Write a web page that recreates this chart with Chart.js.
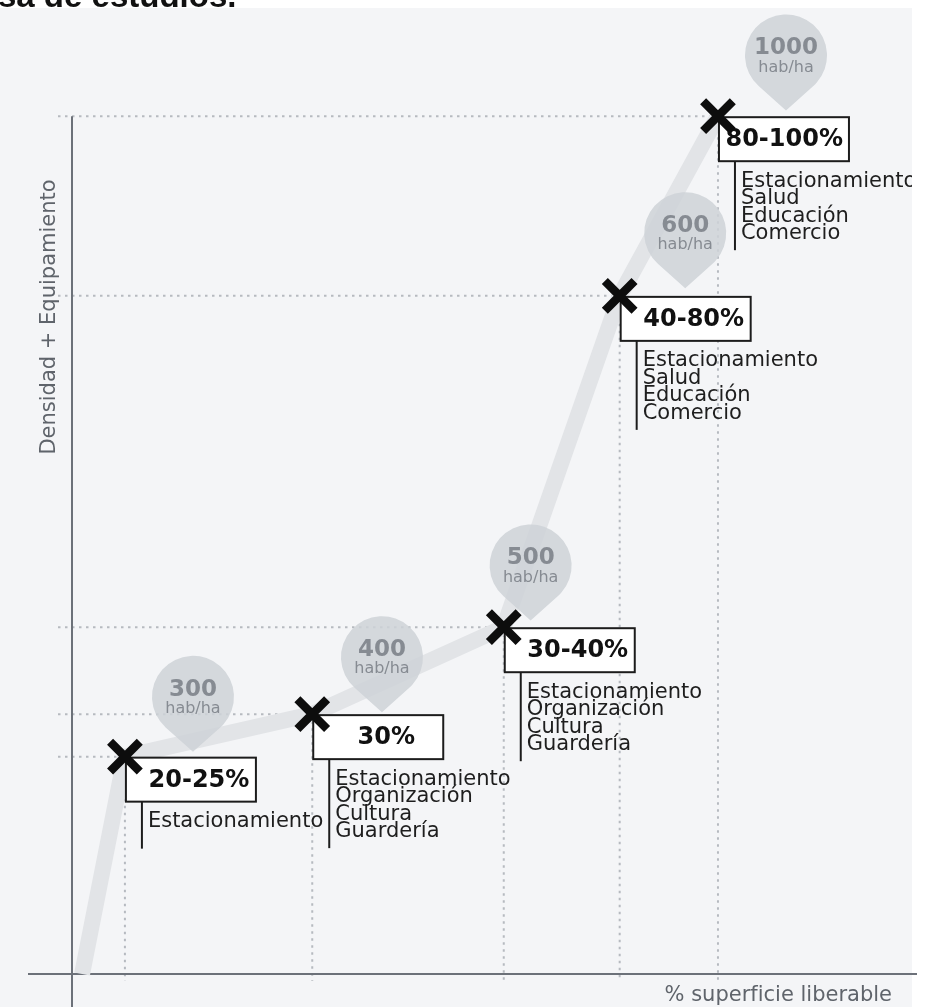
<!DOCTYPE html>
<html lang="es">
<head>
    <meta charset="UTF-8">
    <title>Densidad + Equipamiento</title>
    <style>
        body { margin: 0; background: #fff; }
        canvas { display: block; }
    </style>
</head>
<body>
    <canvas id="grafica" width="937" height="1007"></canvas>

<script src="https://cdn.jsdelivr.net/npm/chart.js@4.4.0/dist/chart.umd.min.js"></script>
<script>
    // datos
    var titulo = 'sa de estudios.';
    var ejeX = '% superficie liberable';
    var ejeY = 'Densidad + Equipamiento';

    var rangos = ['20-25%', '30%', '30-40%', '40-80%', '80-100%'];
    var superficie = [6.3, 28.6, 51.4, 65.2, 76.9];
    var densidadEquip = [22.5, 26.9, 35.9, 70.2, 88.8];
    var inicioX = 1.2;
    var inicioY = 0;

    var equipamiento = [
        ['Estacionamiento'],
        ['Estacionamiento', 'Organización', 'Cultura', 'Guardería'],
        ['Estacionamiento', 'Organización', 'Cultura', 'Guardería'],
        ['Estacionamiento', 'Salud', 'Educación', 'Comercio'],
        ['Estacionamiento', 'Salud', 'Educación', 'Comercio']
    ];

    var densidades = ['300', '400', '500', '600', '1000'];
    var pinX = [14.4, 36.9, 54.6, 73.0, 85.0];
    var pinY = [23.0, 27.1, 36.6, 71.0, 89.4];

    var fuente = "'DejaVu Sans', sans-serif";

    var linea = [{ x: inicioX, y: inicioY }];
    var puntos = [];
    for (var i = 0; i < rangos.length; i++) {
        linea.push({ x: superficie[i], y: densidadEquip[i] });
        puntos.push({ x: superficie[i], y: densidadEquip[i] });
    }

    var fondo = {
        id: 'fondo',
        beforeDraw: function(chart) {
            var ctx = chart.ctx;
            var area = chart.chartArea;
            ctx.save();
            ctx.fillStyle = '#ffffff';
            ctx.fillRect(0, 0, chart.width, chart.height);
            ctx.fillStyle = '#f4f5f7';
            ctx.fillRect(0, 8, area.right, chart.height - 8);
            ctx.fillStyle = '#111';
            ctx.font = "bold 33px 'Liberation Sans', Arial, sans-serif";
            ctx.textBaseline = 'alphabetic';
            ctx.fillText(titulo, -2, 7);
            ctx.restore();
        }
    };

    var guias = {
        id: 'guias',
        beforeDatasetsDraw: function(chart) {
            var ctx = chart.ctx;
            var area = chart.chartArea;
            var sx = chart.scales.x, sy = chart.scales.y;
            var x0 = sx.getPixelForValue(0), y0 = sy.getPixelForValue(0);
            ctx.save();

            // lineas punteadas
            ctx.strokeStyle = '#b6bac0';
            ctx.lineWidth = 2;
            ctx.setLineDash([2.5, 4.5]);
            for (var i = 0; i < rangos.length; i++) {
                var px = sx.getPixelForValue(superficie[i]);
                var py = sy.getPixelForValue(densidadEquip[i]);
                ctx.beginPath();
                ctx.moveTo(x0 - 14, py);
                ctx.lineTo(px, py);
                ctx.moveTo(px, py);
                ctx.lineTo(px, y0 + 7);
                ctx.stroke();
            }
            ctx.setLineDash([]);

            // ejes
            var yTop = sy.getPixelForValue(densidadEquip[densidadEquip.length - 1]);
            ctx.strokeStyle = '#6c7179';
            ctx.lineWidth = 2;
            ctx.beginPath();
            ctx.moveTo(x0 - 44, y0);
            ctx.lineTo(area.right + 5, y0);
            ctx.moveTo(x0, yTop);
            ctx.lineTo(x0, chart.height);
            ctx.stroke();

            // titulos de ejes
            ctx.fillStyle = '#5f646b';
            ctx.font = '21px ' + fuente;
            ctx.textBaseline = 'middle';
            ctx.textAlign = 'right';
            ctx.fillText(ejeX, area.right - 20, y0 + 22);
            ctx.translate(x0 - 22, 317);
            ctx.rotate(-Math.PI / 2);
            ctx.textAlign = 'center';
            ctx.fillText(ejeY, 0, 0);
            ctx.restore();
        }
    };

    function dibujarPin(ctx, tx, ty, valor) {
        var r = 41, d = 55;
        var cx = tx, cy = ty - d;
        var t = Math.acos(r / d);
        ctx.beginPath();
        ctx.moveTo(tx, ty);
        ctx.arc(cx, cy, r, Math.PI / 2 + t, Math.PI / 2 - t);
        ctx.closePath();
        ctx.fillStyle = 'rgba(206, 210, 215, 0.85)';
        ctx.fill();
        ctx.fillStyle = '#868b92';
        ctx.textAlign = 'center';
        ctx.textBaseline = 'middle';
        ctx.font = 'bold 23px ' + fuente;
        ctx.fillText(valor, cx, cy - 7);
        ctx.font = '16px ' + fuente;
        ctx.fillText('hab/ha', cx, cy + 12);
    }

    var etiquetas = {
        id: 'etiquetas',
        beforeDatasetDraw: function(chart, args) {
            if (args.index !== 1) return;
            var ctx = chart.ctx;
            var area = chart.chartArea;
            var sx = chart.scales.x, sy = chart.scales.y;
            ctx.save();
            ctx.beginPath();
            ctx.rect(0, 0, area.right, chart.height);
            ctx.clip();

            for (var i = 0; i < densidades.length; i++) {
                dibujarPin(ctx, sx.getPixelForValue(pinX[i]), sy.getPixelForValue(pinY[i]), densidades[i]);
            }

            for (var j = 0; j < rangos.length; j++) {
                var px = sx.getPixelForValue(superficie[j]);
                var py = sy.getPixelForValue(densidadEquip[j]);
                var left = px + 1, top = py + 1, w = 130, h = 44;

                ctx.fillStyle = '#ffffff';
                ctx.fillRect(left, top, w, h);
                ctx.strokeStyle = '#1c1c1c';
                ctx.lineWidth = 2;
                ctx.strokeRect(left, top, w, h);

                ctx.font = 'bold 24px ' + fuente;
                ctx.fillStyle = '#111';
                ctx.textAlign = 'center';
                ctx.textBaseline = 'middle';
                var tw = ctx.measureText(rangos[j]).width;
                var cx = Math.min(left + 73, left + w - 6 - tw / 2);
                ctx.fillText(rangos[j], cx, top + h / 2 + 1);

                // lista de equipamiento
                var items = equipamiento[j];
                var lx = left + 16;
                var lineTop = top + h;
                ctx.beginPath();
                ctx.moveTo(lx, lineTop);
                ctx.lineTo(lx, lineTop + 33 + 14 * items.length);
                ctx.stroke();

                ctx.font = '21px ' + fuente;
                ctx.fillStyle = '#1e1e1e';
                ctx.textAlign = 'left';
                for (var k = 0; k < items.length; k++) {
                    ctx.fillText(items[k], lx + 6, lineTop + 20 + k * 17.5);
                }
            }
            ctx.restore();
        }
    };

    var ctx = document.getElementById('grafica').getContext('2d');
    var grafica = new Chart(ctx, {
        type: 'line',
        data: {
            datasets: [{
                data: linea,
                order: 2,
                borderColor: '#e2e4e7',
                borderWidth: 16,
                borderJoinStyle: 'round',
                pointRadius: 0,
                tension: 0,
                clip: false
            }, {
                data: puntos,
                order: 1,
                showLine: false,
                pointStyle: 'crossRot',
                pointRadius: 21,
                pointBorderWidth: 8.5,
                pointBorderColor: '#0d0d0d',
                borderColor: '#0d0d0d',
                clip: false
            }]
        },
        options: {
            responsive: false,
            animation: false,
            devicePixelRatio: 1,
            layout: { autoPadding: false, padding: { left: 72, right: 25, top: 8, bottom: 33 } },
            plugins: { legend: { display: false }, tooltip: { enabled: false } },
            scales: {
                x: { type: 'linear', min: 0, max: 100, display: false },
                y: { type: 'linear', min: 0, max: 100, display: false }
            }
        },
        plugins: [fondo, guias, etiquetas]
    });
</script>
</body>
</html>
